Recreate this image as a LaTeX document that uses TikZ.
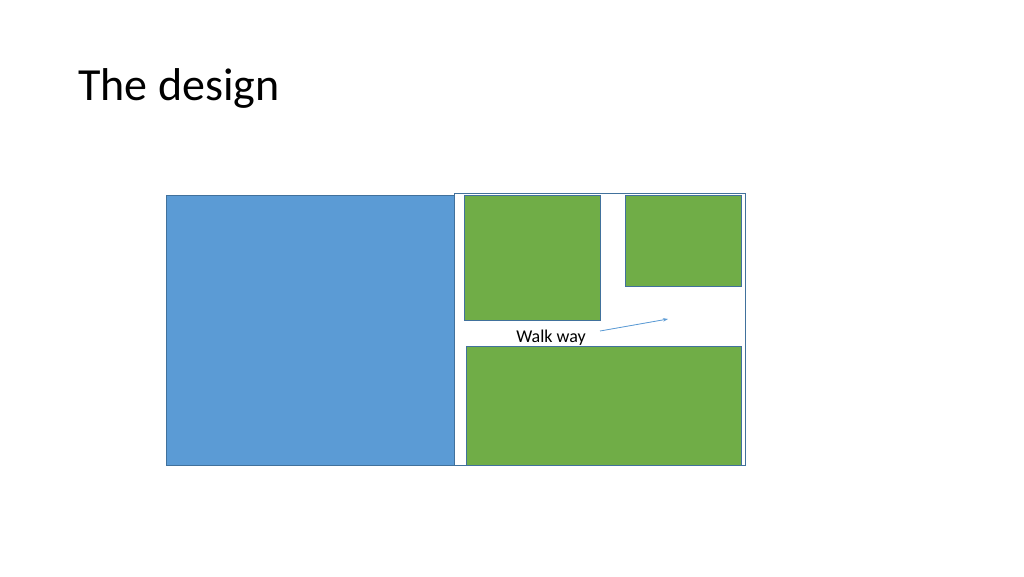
\documentclass[tikz,border=0pt]{standalone}
\usepackage{fontspec}
\setmainfont{Carlito}
\usetikzlibrary{arrows.meta}
\definecolor{fillblue}{HTML}{5B9BD5}
\definecolor{fillgreen}{HTML}{70AD47}
\definecolor{edgeblue}{HTML}{41719C}
\begin{document}
\begin{tikzpicture}[x=1pt,y=-1pt,
  plot/.style={draw=edgeblue,line width=0.8pt},
  bed/.style={plot,fill=fillgreen},
  pond/.style={plot,fill=fillblue},
  lbl/.style={font=\fontsize{18}{20}\selectfont,inner sep=0pt}]
\useasboundingbox[fill=white] (0,0) rectangle (1024,576);
\node[anchor=base west,inner sep=0pt,font=\fontsize{46}{50}\selectfont] (title) at (78,100) {The design};
\draw[pond] (166,195) rectangle (454,465);
\draw[plot,fill=white] (454,193) rectangle (745,465);
\draw[bed] (464,195) rectangle (600,320);
\draw[bed] (625,195) rectangle (741,286);
\draw[bed] (466,346) rectangle (741,465);
\node[lbl,anchor=base] (walk) at (551,342) {Walk way};
\coordinate (tip) at (668,319);
\draw[-{Stealth[length=5pt,width=3.5pt]},draw=fillblue,fill=fillblue,line width=0.8pt] (600,331) -- (tip);
\end{tikzpicture}
\end{document}
